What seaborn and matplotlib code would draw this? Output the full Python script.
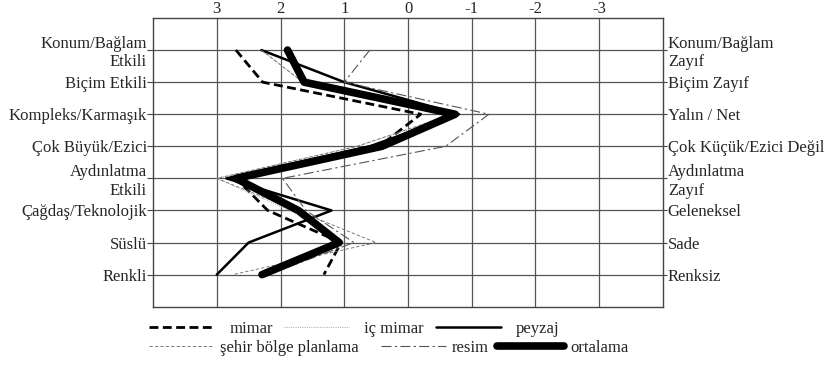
import numpy as np
import pandas as pd
import matplotlib
matplotlib.use('Agg')
import matplotlib.pyplot as plt
import seaborn as sns

# ---- 数据 ----
rows = [1, 2, 3, 4, 5, 6, 7, 8]
left_labels = ['Konum/Bağlam\nEtkili', 'Biçim Etkili', 'Kompleks/Karmaşık', 'Çok Büyük/Ezici',
               'Aydınlatma\nEtkili', 'Çağdaş/Teknolojik', 'Süslü', 'Renkli']
right_labels = ['Konum/Bağlam\nZayıf', 'Biçim Zayıf', 'Yalın / Net', 'Çok Küçük/Ezici Değil',
                'Aydınlatma\nZayıf', 'Geleneksel', 'Sade', 'Renksiz']
x_ticks = [3, 2, 1, 0, -1, -2, -3]

mimar = [2.7, 2.28, -0.2, 0.45, 2.7, 2.2, 1.05, 1.32]
ic_mimar = [2.3, 1.65, -0.75, 0.8, 3.0, 1.85, 1.0, 2.2]
peyzaj = [2.3, 1.0, -0.8, 0.6, 2.85, 1.2, 2.5, 3.0]
sehir = [2.3, 1.65, -0.7, 0.8, 3.0, 1.75, 0.5, 2.75]
resim = [0.6, 1.0, -1.27, -0.59, 1.97, 1.6, 0.85, 2.2]
ortalama = [1.89, 1.63, -0.74, 0.41, 2.7, 1.72, 1.08, 2.29]

# ---- 样式 ----
sns.set_theme(style='white')
plt.rcParams['font.family'] = ['Liberation Serif', 'DejaVu Serif']
plt.rcParams['font.size'] = 12

fig = plt.figure(figsize=(8.25, 3.65), dpi=100)
ax = fig.add_axes([0.1855, 0.1597, 0.8036 - 0.1855, 0.9507 - 0.1597])

series = [
    ('mimar', mimar, dict(color='black', lw=2.0), (3.2, 1.6)),
    ('iç mimar', ic_mimar, dict(color='#b5b5b5', lw=0.8), (1, 1)),
    ('peyzaj', peyzaj, dict(color='black', lw=1.8), None),
    ('şehir bölge planlama', sehir, dict(color='#6a6a6a', lw=0.6), (4, 2.5)),
    ('resim', resim, dict(color='#555555', lw=0.8), (9, 3, 2, 3)),
    ('ortalama', ortalama, dict(color='black', lw=5.5, solid_capstyle='round'), None),
]

handles = {}
for name, vals, kw, dash in series:
    df = pd.DataFrame({'value': vals, 'row': rows})
    sns.lineplot(data=df, x='value', y='row', orient='y', sort=False,
                 estimator=None, ax=ax, zorder=3, **kw)
    line = ax.lines[-1]
    if dash is not None:
        line.set_dashes(dash)
    handles[name] = line
if ax.get_legend() is not None:
    ax.get_legend().remove()

ax.set_xlim(4, -4)
ax.set_ylim(9, 0)
ax.set_xticks(x_ticks, [str(t) for t in x_ticks])
ax.xaxis.tick_top()
ax.tick_params(axis='x', length=0, pad=0.5, labelsize=12)
ax.set_yticks(rows, left_labels)
ax.tick_params(axis='y', direction='out', length=4, width=0.8, color='#444444',
               pad=0.5, labelsize=12, left=True)
ax.set_xlabel('')
ax.set_ylabel('')
ax.grid(True, color='#555555', lw=0.9)
ax.set_axisbelow(True)
for s in ax.spines.values():
    s.set_color('#444444')
    s.set_linewidth(1)

ax2 = ax.twinx()
ax2.set_ylim(9, 0)
ax2.set_yticks(rows, right_labels)
ax2.tick_params(axis='y', direction='out', length=3, width=0.8, color='#444444',
                pad=0.5, labelsize=12, right=True)
ax2.grid(False)
for s in ax2.spines.values():
    s.set_visible(False)

# ---- 图例 (两行) ----
row1 = ['mimar', 'iç mimar', 'peyzaj']
row2 = ['şehir bölge planlama', 'resim']
leg_kw = dict(loc='center left', frameon=False, fontsize=12, borderpad=0, borderaxespad=0)
fig.legend([handles[n] for n in row1], row1, bbox_to_anchor=(0.181, 0.099), ncol=3,
           handlelength=3.9, handletextpad=0.9, columnspacing=0.7, **leg_kw)
fig.legend([handles[n] for n in row2], row2, bbox_to_anchor=(0.181, 0.047), ncol=2,
           handlelength=3.9, handletextpad=0.35, columnspacing=1.35, **leg_kw)
fig.legend([handles['ortalama']], ['ortalama'], bbox_to_anchor=(0.603, 0.047),
           handlelength=4.0, handletextpad=0.4, **leg_kw)

fig.savefig('out.png', dpi=100)
